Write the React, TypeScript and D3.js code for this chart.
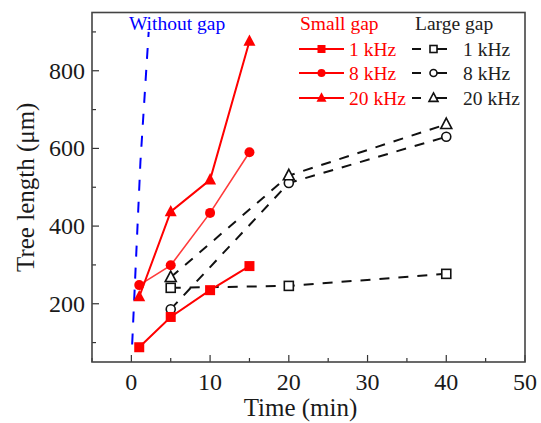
import React from "react";
import * as d3 from "d3";

const smallTime1 = [1, 5, 10, 15];
const small1k = [88, 166, 235, 297];
const small8k = [248, 299, 434, 590];
const small20k = [218, 437, 519, 876];

const largeTime = [5, 20, 40];
const large1k = [241, 246, 277];
const large8k = [186, 511, 630];
const large20k = [268, 530, 662];

const noGapTime = [0.1, 1.15, 2.2];
const noGapLen = [95, 565, 900];

const xTicks = [0, 10, 20, 30, 40, 50];
const xMinor = [-5, 5, 15, 25, 35, 45];
const yTicks = [200, 400, 600, 800];
const yMinor = [100, 300, 500, 700, 900];

const W = 541, H = 423;
const L = 92, R = 525, T = 12.5, B = 362;
const FONT = "Liberation Serif";
const RED = "#ff0000";
const TS: React.CSSProperties = { fontFamily: "'Liberation Serif', 'Times New Roman', Times, serif", fontWeight: 400 };

type Shape = "square" | "circle" | "triangle";

function Marker({ x, y, shape, filled, size, color }: { x: number; y: number; shape: Shape; filled: boolean; size: number; color: string }) {
  const fill = filled ? color : "white";
  const sw = filled ? 0 : 1.6;
  if (shape === "square")
    return <rect x={x - size / 2} y={y - size / 2} width={size} height={size} fill={fill} stroke={color} strokeWidth={sw} />;
  if (shape === "circle")
    return <circle cx={x} cy={y} r={size / 2} fill={fill} stroke={color} strokeWidth={sw} />;
  const h = size * 0.95;
  const p = `M${x},${y - h * 0.6}L${x + size / 2},${y + h * 0.4}L${x - size / 2},${y + h * 0.4}Z`;
  return <path d={p} fill={fill} stroke={color} strokeWidth={sw} />;
}

export default function App() {
  const x = d3.scaleLinear().domain([-5, 50]).range([L, R]);
  const y = d3.scaleLinear().domain([50, 950]).range([B, T]);
  const line = d3
    .line<[number, number]>()
    .x((d) => x(d[0]))
    .y((d) => y(d[1]));

  const small = [
    { vals: small1k, shape: "square" as Shape, color: RED, sw: 2, label: "1 kHz" },
    { vals: small8k, shape: "circle" as Shape, color: "#ff3b3b", sw: 1.6, label: "8 kHz" },
    { vals: small20k, shape: "triangle" as Shape, color: RED, sw: 2, label: "20 kHz" },
  ];
  const large = [
    { vals: large1k, shape: "square" as Shape, label: "1 kHz" },
    { vals: large8k, shape: "circle" as Shape, label: "8 kHz" },
    { vals: large20k, shape: "triangle" as Shape, label: "20 kHz" },
  ];
  const legendRows = [49, 73, 98];
  const black = "#111";
  const txt = "#1a1a1a";

  return (
    <svg width={W} height={H} style={{ position: "absolute", left: 0, top: 0, background: "white" }} fontFamily={FONT}>
      <defs>
        <clipPath id="plotclip">
          <rect x={L} y={T} width={R - L} height={B - T} />
        </clipPath>
      </defs>
      <rect x={0} y={0} width={W} height={H} fill="white" />

      {/* ticks */}
      {xTicks.map((t) => (
        <line key={"xt" + t} x1={x(t)} x2={x(t)} y1={B} y2={B - 7} stroke="#333" strokeWidth={1.2} />
      ))}
      {xMinor.map((t) => (
        <line key={"xm" + t} x1={x(t)} x2={x(t)} y1={B} y2={B - 4} stroke="#333" strokeWidth={1.2} />
      ))}
      {yTicks.map((t) => (
        <line key={"yt" + t} x1={L} x2={L + 7} y1={y(t)} y2={y(t)} stroke="#333" strokeWidth={1.2} />
      ))}
      {yMinor.map((t) => (
        <line key={"ym" + t} x1={L} x2={L + 4} y1={y(t)} y2={y(t)} stroke="#333" strokeWidth={1.2} />
      ))}
      {xTicks.map((t) => (
        <text key={"xl" + t} x={x(t)} y={B + 28} fontSize={24} textAnchor="middle" fill={txt} style={TS}>
          {t}
        </text>
      ))}
      {yTicks.map((t) => (
        <text key={"yl" + t} x={L - 7} y={y(t) + 8} fontSize={24} textAnchor="end" fill={txt} style={TS}>
          {t}
        </text>
      ))}

      {/* axis titles */}
      <text x={(L + R) / 2 - 8} y={416} fontSize={25} textAnchor="middle" fill={txt} style={TS}>
        Time (min)
      </text>
      <text transform={`translate(34,${(T + B) / 2}) rotate(-90)`} fontSize={25} textAnchor="middle" fill={txt} style={TS}>
        Tree length (μm)
      </text>

      <g clipPath="url(#plotclip)">
        {/* without gap */}
        <path
          d={line(noGapTime.map((t, i) => [t, noGapLen[i]]) as [number, number][]) || ""}
          fill="none"
          stroke="#0000ff"
          strokeWidth={2}
          strokeDasharray="11,11"
        />
        {/* large gap */}
        {large.map((s) => (
          <path
            key={"lg" + s.label}
            d={line(largeTime.map((t, i) => [t, s.vals[i]]) as [number, number][]) || ""}
            fill="none"
            stroke={black}
            strokeWidth={2}
            strokeDasharray="10,9"
          />
        ))}
        {large.map((s) =>
          largeTime.map((t, i) => (
            <Marker key={"lm" + s.label + t} x={x(t)} y={y(s.vals[i])} shape={s.shape} filled={false} size={s.shape === "triangle" ? 11 : 9} color={black} />
          ))
        )}
        {/* small gap */}
        {small.map((s) => (
          <path
            key={"sg" + s.label}
            d={line(smallTime1.map((t, i) => [t, s.vals[i]]) as [number, number][]) || ""}
            fill="none"
            stroke={s.color}
            strokeWidth={s.sw}
          />
        ))}
        {small.map((s) =>
          smallTime1.map((t, i) => (
            <Marker key={"sm" + s.label + t} x={x(t)} y={y(s.vals[i])} shape={s.shape} filled={true} size={s.shape === "triangle" ? 12 : 10} color={RED} />
          ))
        )}
      </g>

      {/* frame */}
      <rect x={L} y={T} width={R - L} height={B - T} fill="none" stroke="#444" strokeWidth={1.6} />

      {/* legend */}
      <text x={129} y={30} fontSize={19.5} fill="#0000ff" style={TS}>
        Without gap
      </text>
      <text x={300} y={30} fontSize={19.5} fill={RED} style={TS}>
        Small gap
      </text>
      <text x={415} y={30} fontSize={19.5} fill="#222" style={TS}>
        Large gap
      </text>
      {small.map((s, i) => (
        <g key={"ls" + s.label}>
          <line x1={299} x2={344} y1={legendRows[i]} y2={legendRows[i]} stroke={RED} strokeWidth={2} />
          <Marker x={321.5} y={legendRows[i]} shape={s.shape} filled={true} size={s.shape === "triangle" ? 10 : 8} color={RED} />
          <text x={349} y={legendRows[i] + 7} fontSize={19.5} fill={RED} style={TS}>
            {s.label}
          </text>
        </g>
      ))}
      {large.map((s, i) => (
        <g key={"ll" + s.label}>
          <line x1={412} x2={421} y1={legendRows[i]} y2={legendRows[i]} stroke={black} strokeWidth={2} />
          <line x1={433} x2={447} y1={legendRows[i]} y2={legendRows[i]} stroke={black} strokeWidth={2} />
          <Marker x={433.5} y={legendRows[i]} shape={s.shape} filled={false} size={s.shape === "triangle" ? 9 : 7} color={black} />
          <text x={463} y={legendRows[i] + 7} fontSize={19.5} fill="#222" style={TS}>
            {s.label}
          </text>
        </g>
      ))}
    </svg>
  );
}
